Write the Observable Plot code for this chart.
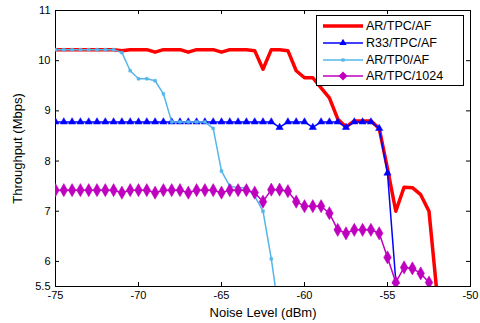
<!DOCTYPE html>
<html><head><meta charset="utf-8">
<script src="https://cdn.jsdelivr.net/npm/d3@7"></script>
<script src="https://cdn.jsdelivr.net/npm/@observablehq/plot@0.6"></script>
<style>
body{margin:0;background:#fff;}
#wrap{position:relative;width:480px;height:323px;font-family:"Liberation Sans",Arial,sans-serif;}
#wrap svg [aria-label="x-axis label"] text, #wrap svg [aria-label="y-axis label"] text{font-size:13px;}
#legend{position:absolute;left:316px;top:15px;width:148px;height:71px;border:1px solid #000;background:#fff;box-sizing:border-box;}
.row{position:absolute;left:0;height:16px;display:flex;align-items:center;font-size:12.5px;color:#000;}
.row svg{display:block;margin-left:6px;margin-right:3px;}
</style></head><body><div id="wrap"></div>
<script>
const noise = [-75,-74.5,-74,-73.5,-73,-72.5,-72,-71.5,-71,-70.5,-70,-69.5,-69,-68.5,-68,-67.5,-67,-66.5,-66,-65.5,-65,-64.5,-64,-63.5,-63,-62.5,-62,-61.5,-61,-60.5,-60,-59.5,-59,-58.5,-58,-57.5,-57,-56.5,-56,-55.5,-55,-54.5,-54,-53.5,-53,-52.5,-52];
const arTpcAf = [10.22,10.22,10.22,10.22,10.22,10.22,10.22,10.22,10.2,10.22,10.22,10.22,10.17,10.22,10.22,10.22,10.17,10.22,10.22,10.22,10.17,10.22,10.22,10.22,10.2,9.83,10.22,10.22,10.2,9.8,9.66,9.66,9.46,9.26,8.84,8.68,8.8,8.8,8.8,8.65,7.85,7.0,7.48,7.47,7.33,7.0,5.3];
const r33TpcAf = [8.78,8.78,8.78,8.78,8.78,8.78,8.78,8.78,8.78,8.78,8.78,8.78,8.78,8.78,8.78,8.78,8.78,8.78,8.78,8.78,8.78,8.78,8.78,8.78,8.78,8.78,8.78,8.67,8.78,8.78,8.78,8.67,8.78,8.78,8.78,8.67,8.78,8.78,8.78,8.65,7.76,5.6,null,null,null,null,null];
const arTp0Af = [10.22,10.22,10.22,10.22,10.22,10.22,10.22,10.22,10.16,9.8,9.64,9.64,9.6,9.34,8.78,8.78,8.78,8.78,8.78,8.65,7.8,7.5,7.47,7.47,7.3,7.0,6.05,4.9,null,null,null,null,null,null,null,null,null,null,null,null,null,null,null,null,null,null,null];
const arTpc1024 = [7.42,7.42,7.42,7.42,7.42,7.42,7.42,7.42,7.37,7.42,7.42,7.42,7.37,7.42,7.42,7.42,7.37,7.42,7.42,7.42,7.37,7.42,7.42,7.42,7.37,7.19,7.43,7.43,7.4,7.19,7.1,7.1,7.1,6.96,6.63,6.56,6.63,6.63,6.63,6.56,6.08,5.58,5.88,5.86,5.76,5.58,null];
const seriesNames = ["AR/TPC/AF","R33/TPC/AF","AR/TP0/AF","AR/TPC/1024"];
const xTicks = [-75,-70,-65,-60,-55,-50];
const yTicks = [5.5,6,7,8,9,10,11];

const series = [
  {name: seriesNames[0], values: arTpcAf, color: "#ff0000", width: 3.5, symbol: null, r: 0},
  {name: seriesNames[1], values: r33TpcAf, color: "#0000ff", width: 1.5, symbol: "triangle", r: 2.7},
  {name: seriesNames[2], values: arTp0Af, color: "#55b6ea", width: 1.5, symbol: "square", r: 1.6},
  {name: seriesNames[3], values: arTpc1024, color: "#bf00bf", width: 1.5, symbol: "diamond", r: 4}
];
const rowsOf = s => noise.map((x, i) => ({x, y: s.values[i]})).filter(d => d.y != null);

const W = 480, H = 323, mt = 10, mr = 10, mb = 37, ml = 55;
const fh = H - mt - mb, fw = W - ml - mr;

const marks = [
  Plot.frame({stroke: "#000", strokeWidth: 1}),
  Plot.tickX(xTicks, {x: d => d, insetTop: fh - 4, stroke: "#000"}),
  Plot.tickX(xTicks, {x: d => d, insetBottom: fh - 4, stroke: "#000"}),
  Plot.tickY(yTicks, {y: d => d, insetRight: fw - 4, stroke: "#000"}),
  Plot.tickY(yTicks, {y: d => d, insetLeft: fw - 4, stroke: "#000"}),
  Plot.axisX({ticks: xTicks, tickSize: 0, tickPadding: 5, tickFormat: d => String(d), fontSize: 11,
    label: "Noise Level (dBm)", labelAnchor: "center", labelArrow: "none", labelOffset: 30}),
  Plot.axisY({ticks: yTicks, tickSize: 0, tickPadding: 5, tickFormat: d => String(d), fontSize: 11,
    label: "Throughput (Mbps)", labelAnchor: "center", labelArrow: "none", labelOffset: 43})
];
for (const s of series) {
  const data = rowsOf(s);
  marks.push(Plot.line(data, {x: "x", y: "y", stroke: s.color, strokeWidth: s.width, clip: true}));
  if (s.symbol) marks.push(Plot.dot(data, {x: "x", y: "y", symbol: s.symbol, r: s.r, fill: s.color, stroke: s.color, strokeWidth: 0.5, clip: true}));
}

const chart = Plot.plot({
  width: W, height: H, marginTop: mt, marginRight: mr, marginBottom: mb, marginLeft: ml,
  style: {fontFamily: "Liberation Sans, Arial, sans-serif", fontSize: "12px", background: "#fff", color: "#000", overflow: "visible"},
  x: {domain: [-75, -50]},
  y: {domain: [5.5, 11]},
  marks
});
const wrap = document.getElementById("wrap");
wrap.appendChild(chart);

const legend = document.createElement("div");
legend.id = "legend";
series.forEach((s, i) => {
  const row = document.createElement("div");
  row.className = "row";
  row.style.top = (2 + i * 16.8) + "px";
  const svg = d3.create("svg").attr("width", 40).attr("height", 16);
  svg.append("line").attr("x1", 0).attr("x2", 40).attr("y1", 8).attr("y2", 8)
    .attr("stroke", s.color).attr("stroke-width", s.width);
  if (s.symbol) {
    svg.append("path").attr("transform", "translate(20,8)")
      .attr("d", d3.symbol(s.symbol === "triangle" ? d3.symbolTriangle : s.symbol === "square" ? d3.symbolSquare : d3.symbolDiamond2, Math.PI * s.r * s.r * (s.symbol === "square" ? 1.3 : 1))())
      .attr("fill", s.color);
  }
  row.appendChild(svg.node());
  const t = document.createElement("span");
  t.textContent = s.name;
  row.appendChild(t);
  legend.appendChild(row);
});
wrap.appendChild(legend);
</script>
</body></html>
